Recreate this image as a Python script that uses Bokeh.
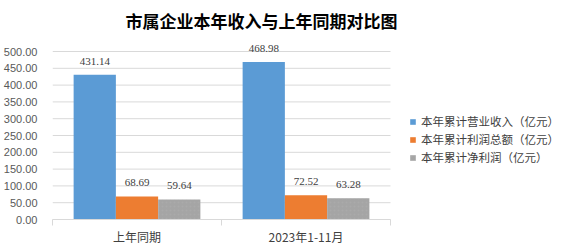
import numpy as np
from bokeh.plotting import figure
from bokeh.models import (ColumnDataSource, FixedTicker, Legend, LegendItem,
                          Range1d, NumeralTickFormatter)
from bokeh.core.properties import value
from bokeh.embed import file_html
from bokeh.resources import INLINE

title_text = "市属企业本年收入与上年同期对比图"
categories = ["上年同期", "2023年1-11月"]
series_names = ["本年累计营业收入（亿元）", "本年累计利润总额（亿元）", "本年累计净利润（亿元）"]
revenue = [431.14, 468.98]
total_profit = [68.69, 72.52]
net_profit = [59.64, 63.28]
y_ticks = [0, 50, 100, 150, 200, 250, 300, 350, 400, 450, 500]

colors = ["#5B9BD5", "#ED7D31", "#A5A5A5"]
series = [revenue, total_profit, net_profit]

ncat = len(categories)
# plot area: x 52..390 px holds the categories, the frame continues to 577 for the legend
x_end = ncat * (577 - 52) / (390 - 52)
# 0 at px 219, 500 at px 51; frame top at px 36 leaves room for the value labels
y_top = 500 * (219 - 36) / (219 - 51)

p = figure(width=577, height=252, x_range=Range1d(0, x_end),
           y_range=Range1d(0, y_top),
           min_border_left=52, min_border_right=0, min_border_top=36, min_border_bottom=33,
           outline_line_color=None, toolbar_location=None, output_backend="svg",
           background_fill_color="white", border_fill_color="white")

p.title.text = title_text
p.title.align = "left"
p.title.offset = 73
p.title.standoff = 7
p.title.text_font = "Noto Sans CJK SC"
p.title.text_font_style = "bold"
p.title.text_font_size = "17px"
p.title.text_color = "#000000"

# y axis
p.yaxis.ticker = FixedTicker(ticks=y_ticks)
p.yaxis.formatter = NumeralTickFormatter(format="0.00")
p.yaxis.axis_line_color = None
p.yaxis.major_tick_line_color = None
p.yaxis.minor_tick_line_color = None
p.yaxis.major_label_standoff = 9
p.yaxis.major_label_text_font = "Liberation Sans"
p.yaxis.major_label_text_font_size = "11px"
p.yaxis.major_label_text_color = "#595959"

# x axis
centers = [i + 0.5 for i in range(ncat)]
bounds = [float(i) for i in range(ncat + 1)]
p.xaxis.ticker = FixedTicker(ticks=centers, minor_ticks=bounds)
p.xaxis.major_label_overrides = {c: cat for c, cat in zip(centers, categories)}
p.xaxis.bounds = (0, ncat)
p.xaxis.axis_line_color = "#D9D9D9"
p.xaxis.major_tick_line_color = None
p.xaxis.major_tick_out = 0
p.xaxis.minor_tick_line_color = "#D9D9D9"
p.xaxis.minor_tick_out = 6
p.xaxis.minor_tick_in = 0
p.xaxis.major_label_standoff = 2
p.xaxis.major_label_text_font = "Noto Sans CJK SC"
p.xaxis.major_label_text_font_size = "12px"
p.xaxis.major_label_text_color = "#404040"

# grid limited to the category area
p.xgrid.visible = False
p.ygrid.visible = False
p.segment(x0=[0] * len(y_ticks), x1=[ncat] * len(y_ticks), y0=y_ticks, y1=y_ticks,
          line_color="#D9D9D9", line_width=1)

items = []
n = len(series)
w = 0.25
for j, (vals, col, name) in enumerate(zip(series, colors, series_names)):
    xs = [c + (j - (n - 1) / 2) * w for c in centers]
    src = ColumnDataSource(dict(x=xs, top=vals, lab=[f"{v:.2f}" for v in vals]))
    kw = {}
    if j == 2:
        kw = dict(hatch_pattern="dot", hatch_color="#B4B4B4", hatch_scale=4, hatch_alpha=0.35)
    r = p.vbar(x="x", top="top", width=w, source=src, fill_color=col, line_color=None, **kw)
    p.text(x="x", y="top", text="lab", source=src, text_align="center", text_baseline="bottom",
           y_offset=-10, text_font=value("Liberation Serif"), text_font_size="11px",
           text_color="#404040")
    items.append(LegendItem(label=name, renderers=[r]))

legend = Legend(items=items, location=(357, 53), orientation="vertical",
                glyph_width=7, glyph_height=7, label_standoff=5, label_height=18,
                label_width=10, spacing=0, padding=0, margin=0,
                border_line_color=None, background_fill_alpha=0,
                label_text_font="Noto Sans CJK SC", label_text_font_size="11.5px",
                label_text_color="#404040", label_text_baseline="middle")
p.add_layout(legend)

open("out.html", "w").write(file_html(p, INLINE))
